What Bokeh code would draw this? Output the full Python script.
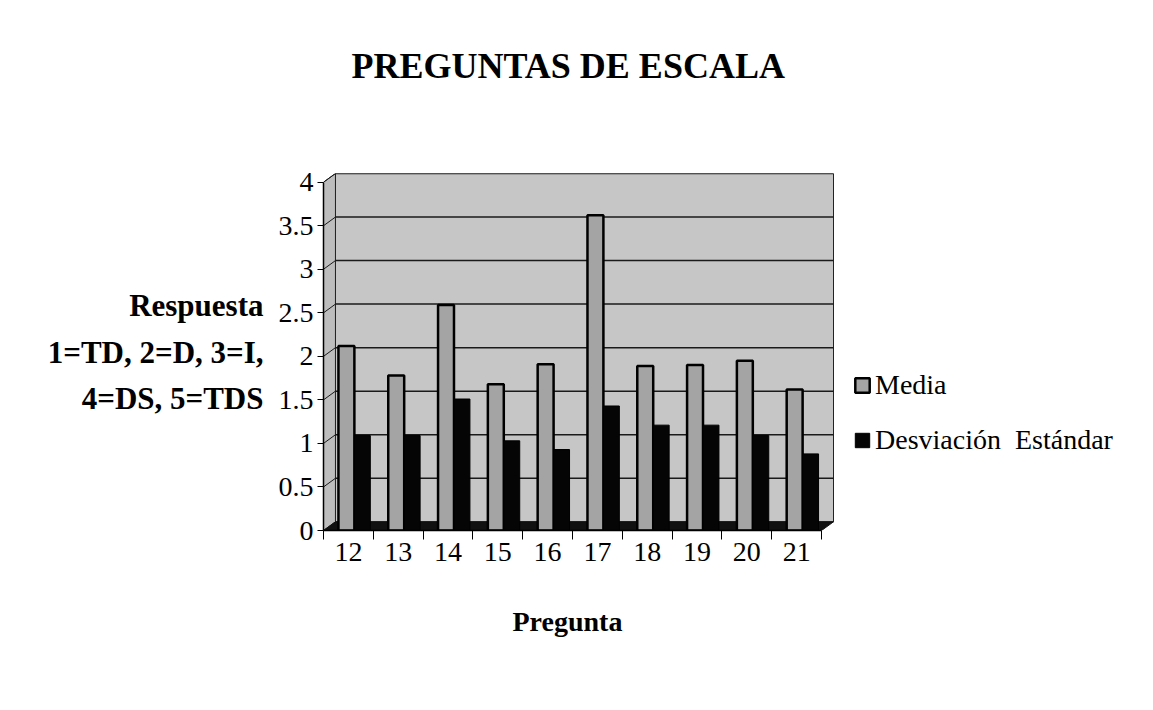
import numpy as np
from bokeh.plotting import figure
from bokeh.models import Range1d, FixedTicker, Legend, LegendItem, Title
from bokeh.embed import file_html
from bokeh.resources import INLINE

# ---- data ----
preguntas = ["12", "13", "14", "15", "16", "17", "18", "19", "20", "21"]
media = [2.12, 1.78, 2.59, 1.68, 1.91, 3.62, 1.89, 1.90, 1.95, 1.62]
desviacion = [1.09, 1.09, 1.51, 1.03, 0.93, 1.43, 1.21, 1.21, 1.09, 0.88]
y_ticks = [0, 0.5, 1, 1.5, 2, 2.5, 3, 3.5, 4]
y_tick_labels = ["0", "0.5", "1", "1.5", "2", "2.5", "3", "3.5", "4"]
series_names = ["Media", "Desviación  Estándar"]
title_text = "PREGUNTAS DE ESCALA"
x_title = "Pregunta"
y_title_lines = ["Respuesta", "1=TD, 2=D, 3=I,", "4=DS, 5=TDS"]

# ---- style ----
FONT = "Liberation Serif"
WALL = "#c6c6c6"
SIDE = "#bdbdbd"
MEDIA_COL = "#a4a4a4"
DS_COL = "#050505"
DX, DY = 0.24, 0.10          # 3-D depth offset in data units
n = len(preguntas)
idx = np.arange(n)
top = max(y_ticks)

W, H = 1137, 694
LEFT, TOP, BOTTOM = 323, 173, 164
FRAME_W = W - LEFT
x_end = (n + DX) * FRAME_W / 510.0   # wall keeps its 510 px width, legend sits to its right

p = figure(width=W, height=H, output_backend="svg", toolbar_location=None, title=None,
           x_range=Range1d(0, x_end), y_range=Range1d(0, top + DY),
           min_border_left=LEFT, min_border_right=0, min_border_top=TOP, min_border_bottom=BOTTOM,
           background_fill_color="white", border_fill_color="white")
p.outline_line_color = None
p.xgrid.visible = False
p.ygrid.visible = False

# back wall, side wall, floor
p.quad(left=DX, right=n + DX, bottom=DY, top=top + DY, fill_color=WALL, line_color="#222222", line_width=1)
p.patch(x=[0, DX, DX, 0], y=[0, DY, top + DY, top], fill_color=SIDE, line_color="#222222", line_width=1)
gy = np.array(y_ticks[1:], dtype=float)
p.segment(x0=[DX] * len(gy), x1=[n + DX] * len(gy), y0=gy + DY, y1=gy + DY, line_color="#1a1a1a", line_width=1.5)
p.segment(x0=[0] * len(gy), x1=[DX] * len(gy), y0=gy, y1=gy + DY, line_color="#1a1a1a", line_width=1)
p.patch(x=[0, n, n + DX, DX], y=[0, 0, DY, DY], fill_color="#111111", line_color="#111111")

# bars
r_media = p.vbar(x=idx + 0.46, width=0.32, top=media, bottom=0, fill_color=MEDIA_COL,
                 line_color="black", line_width=2.5)
r_ds = p.vbar(x=idx + 0.78, width=0.32, top=desviacion, bottom=0, fill_color=DS_COL,
              line_color="black", line_width=1)

# title: a blank spacer panel next to the plot, then the title text above it
p.add_layout(Title(text=" ", text_font_size="10px", standoff=75), "above")
p.add_layout(Title(text=title_text, align="left", offset=28, standoff=0,
                   text_font=FONT, text_font_size="36px", text_font_style="bold",
                   text_color="black"), "above")

# x axis
xa = p.xaxis[0]
xa.ticker = FixedTicker(ticks=[float(i + 0.5) for i in idx], minor_ticks=[float(i) for i in range(n + 1)])
xa.major_label_overrides = {float(i + 0.5): lab for i, lab in zip(idx, preguntas)}
xa.bounds = (0, n)
xa.major_tick_line_color = None
xa.major_tick_out = 0
xa.minor_tick_in = 0
xa.minor_tick_out = 9
xa.minor_tick_line_color = "black"
xa.axis_line_color = "black"
xa.axis_line_width = 1.5
xa.major_label_standoff = 3
xa.major_label_text_font = FONT
xa.major_label_text_font_size = "28px"
xa.major_label_text_color = "black"

p.add_layout(Title(text=x_title, align="left", offset=189, standoff=80,
                   text_font=FONT, text_font_size="28px", text_font_style="bold",
                   text_color="black"), "below")

# y axis
ya = p.yaxis[0]
ya.ticker = FixedTicker(ticks=y_ticks, minor_ticks=[])
ya.major_label_overrides = {t: lab for t, lab in zip(y_ticks, y_tick_labels)}
ya.bounds = (0, top)
ya.major_tick_in = 0
ya.major_tick_out = 6
ya.major_tick_line_color = "black"
ya.minor_tick_line_color = None
ya.axis_line_color = "black"
ya.axis_line_width = 1.5
ya.major_label_standoff = 4
ya.major_label_text_font = FONT
ya.major_label_text_font_size = "28px"
ya.major_label_text_color = "black"
ya.axis_label = "\n".join(y_title_lines)
ya.axis_label_orientation = "horizontal"
ya.axis_label_standoff = 12
ya.axis_label_text_font = FONT
ya.axis_label_text_font_size = "31px"
ya.axis_label_text_font_style = "bold"
ya.axis_label_text_color = "black"
ya.axis_label_text_line_height = 1.33
ya.axis_label_text_align = "center"

legend = Legend(items=[LegendItem(label=series_names[0], renderers=[r_media]),
                       LegendItem(label=series_names[1], renderers=[r_ds])],
                location=(530, 74), orientation="vertical",
                label_text_font=FONT, label_text_font_size="28px", label_text_color="black",
                glyph_width=18, glyph_height=18, label_height=30, spacing=23,
                label_standoff=4, padding=0, margin=0,
                border_line_color=None, background_fill_alpha=0)
p.add_layout(legend, "center")

open("out.html", "w").write(file_html(p, INLINE))
